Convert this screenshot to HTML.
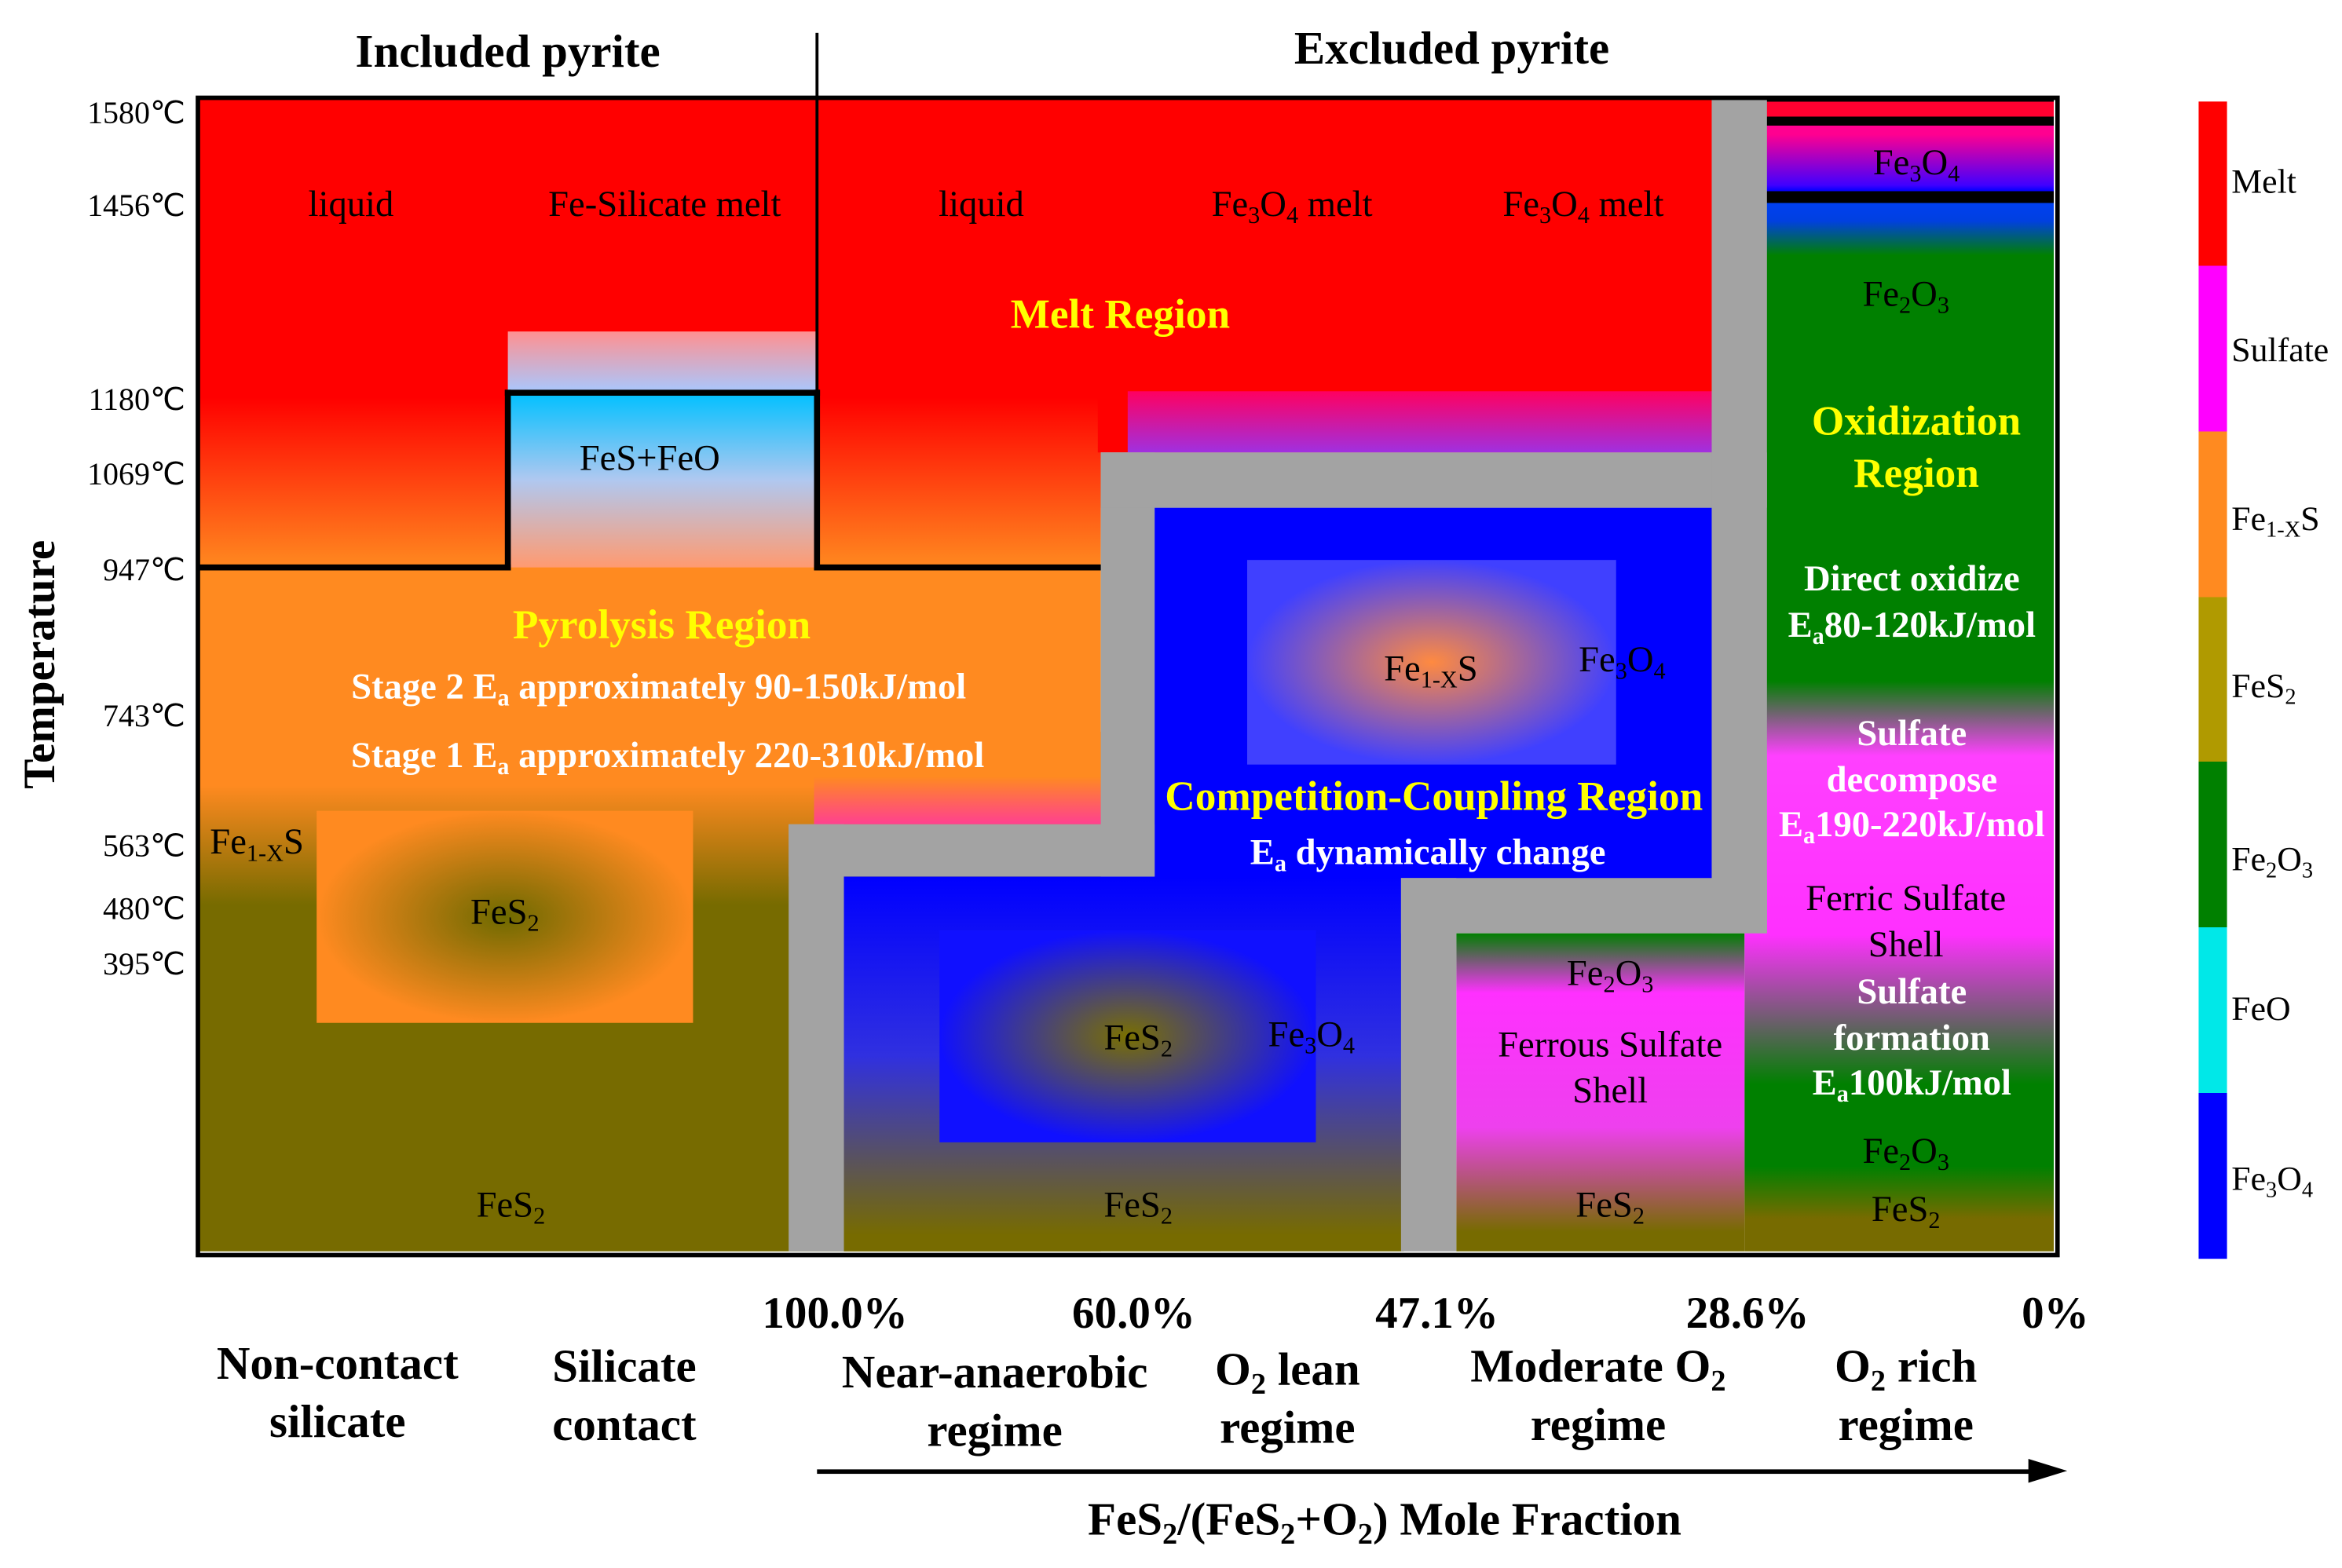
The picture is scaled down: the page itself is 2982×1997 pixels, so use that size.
<!DOCTYPE html>
<html><head><meta charset="utf-8"><style>
html,body{margin:0;padding:0;background:#fff;}
body{width:2982px;height:1997px;overflow:hidden;position:relative;}
#s{position:absolute;left:0;top:0;width:1568px;height:1050px;transform:scale(1.9018);transform-origin:0 0;font-family:"Liberation Serif",serif;color:#000;}
.a{position:absolute;}
.t{position:absolute;white-space:nowrap;font-size:24.5px;transform:translate(-50%,-50%);text-align:center;line-height:1.25;}
.b{font-weight:bold;}
.y{color:#ffff00;font-weight:bold;}
.w{color:#fff;font-weight:bold;}
.g{background:#a3a3a3;position:absolute;}
.k{background:#000;position:absolute;}
.tk{position:absolute;font-size:21px;transform:translate(-100%,-50%);white-space:nowrap;}
.cb{position:absolute;left:1494px;font-size:23px;transform:translateY(-50%);white-space:nowrap;}
sub{font-size:65%;vertical-align:-0.3em;line-height:0;}
</style></head><body><div id="s">
<div class="a" style="left:133px;top:66px;width:604px;height:772px;background:linear-gradient(#ff0000 0px,#ff0000 200px,#ff8a20 315px,#ff8a20 460px,#776b00 540px,#776b00 772px);"></div>
<div class="a" style="left:340px;top:222px;width:207px;height:41px;background:linear-gradient(#ff9090,#a8c8ff);"></div>
<div class="a" style="left:340px;top:263px;width:207px;height:117px;background:linear-gradient(#00c0ff,#b0c8f0 50%,#ff9a70);"></div>
<div class="a" style="left:212px;top:543px;width:252px;height:142px;background:radial-gradient(ellipse closest-side,#6e6a00,#ff8a20);"></div>
<div class="a" style="left:545px;top:490px;width:194px;height:62px;background:linear-gradient(#ff8a20,#ff8a20 30px,#ff4090);"></div>
<div class="a" style="left:735px;top:66px;width:412px;height:237px;background:#ff0000;"></div>
<div class="a" style="left:755px;top:262px;width:392px;height:41px;background:linear-gradient(#ff0060,#a030e0);"></div>
<div class="a" style="left:773px;top:340px;width:375px;height:250px;background:#0000ff;"></div>
<div class="a" style="left:835px;top:375px;width:247px;height:137px;background:radial-gradient(ellipse closest-side,#ff8a40,#4040ff);"></div>
<div class="a" style="left:565px;top:587px;width:375px;height:251px;background:linear-gradient(#0000ff 0,#3030e0 120px,#776b00 240px);"></div>
<div class="a" style="left:629px;top:623px;width:252px;height:142px;background:radial-gradient(ellipse closest-side,#7a7000,#1010ff);"></div>
<div class="a" style="left:975px;top:625px;width:193px;height:213px;background:linear-gradient(#008000 0,#ff30ff 40px,#ee40ee 130px,#776b00 200px);"></div>
<div class="a" style="left:1168px;top:66px;width:207px;height:772px;background:linear-gradient(#000 0,#000 2px,#ff0030 2px,#ff0030 12px,#000 12px,#000 18px,#ff0090 18px,#ff0090 24px,#4000ff 58px,#0000ff 62px,#000 62px,#000 70px,#0040f0 70px,#0040e0 82px,#008000 105px,#008000 390px,#ff40ff 440px,#ff30ff 560px,#008000 660px,#008000 715px,#776b00 750px);"></div>
<div class="g" style="left:528px;top:552px;width:37px;height:286px;"></div>
<div class="g" style="left:528px;top:552px;width:245px;height:35px;"></div>
<div class="g" style="left:737px;top:303px;width:36px;height:284px;"></div>
<div class="g" style="left:737px;top:303px;width:446px;height:37px;"></div>
<div class="g" style="left:1146px;top:66px;width:37px;height:559px;"></div>
<div class="g" style="left:938px;top:588px;width:245px;height:37px;"></div>
<div class="g" style="left:938px;top:588px;width:37px;height:250px;"></div>
<div class="k" style="left:133px;top:378px;width:209px;height:4px;"></div>
<div class="k" style="left:338px;top:261px;width:4px;height:121px;"></div>
<div class="k" style="left:338px;top:261px;width:211px;height:4px;"></div>
<div class="k" style="left:545px;top:261px;width:4px;height:121px;"></div>
<div class="k" style="left:545px;top:378px;width:192px;height:4px;"></div>
<div class="k" style="left:546px;top:22px;width:1.5px;height:360px;"></div>
<div class="a" style="left:131px;top:64px;width:1242px;height:772px;border:3.5px solid #000;"></div>
<div class="t b" style="left:340px;top:35px;font-size:31px;">Included pyrite</div>
<div class="t b" style="left:972px;top:33px;font-size:31px;">Excluded pyrite</div>
<div class="tk" style="left:124px;top:76px;">1580℃</div>
<div class="tk" style="left:124px;top:138px;">1456℃</div>
<div class="tk" style="left:124px;top:268px;">1180℃</div>
<div class="tk" style="left:124px;top:318px;">1069℃</div>
<div class="tk" style="left:124px;top:382px;">947℃</div>
<div class="tk" style="left:124px;top:480px;">743℃</div>
<div class="tk" style="left:124px;top:567px;">563℃</div>
<div class="tk" style="left:124px;top:609px;">480℃</div>
<div class="tk" style="left:124px;top:646px;">395℃</div>
<div class="t b" style="left:27px;top:445px;font-size:30px;transform:translate(-50%,-50%) rotate(-90deg);">Temperature</div>
<div class="t" style="left:235px;top:138px;">liquid</div>
<div class="t" style="left:445px;top:138px;">Fe-Silicate melt</div>
<div class="t" style="left:657px;top:138px;">liquid</div>
<div class="t" style="left:865px;top:138px;">Fe<sub>3</sub>O<sub>4</sub> melt</div>
<div class="t" style="left:1060px;top:138px;">Fe<sub>3</sub>O<sub>4</sub> melt</div>
<div class="t y" style="left:750px;top:211px;font-size:28px;">Melt Region</div>
<div class="t" style="left:435px;top:308px;">FeS+FeO</div>
<div class="t y" style="left:443px;top:419px;font-size:28px;">Pyrolysis Region</div>
<div class="t w" style="left:441px;top:461px;">Stage 2 E<sub>a</sub> approximately 90-150kJ/mol</div>
<div class="t w" style="left:447px;top:507px;">Stage 1 E<sub>a</sub> approximately 220-310kJ/mol</div>
<div class="t" style="left:172px;top:565px;">Fe<sub>1-X</sub>S</div>
<div class="t" style="left:338px;top:612px;">FeS<sub>2</sub></div>
<div class="t" style="left:342px;top:808px;">FeS<sub>2</sub></div>
<div class="t" style="left:958px;top:449px;">Fe<sub>1-X</sub>S</div>
<div class="t" style="left:1086px;top:443px;">Fe<sub>3</sub>O<sub>4</sub></div>
<div class="t y" style="left:960px;top:534px;font-size:28px;">Competition-Coupling Region</div>
<div class="t w" style="left:956px;top:572px;">E<sub>a</sub> dynamically change</div>
<div class="t" style="left:762px;top:696px;">FeS<sub>2</sub></div>
<div class="t" style="left:878px;top:694px;">Fe<sub>3</sub>O<sub>4</sub></div>
<div class="t" style="left:762px;top:808px;">FeS<sub>2</sub></div>
<div class="t" style="left:1078px;top:653px;">Fe<sub>2</sub>O<sub>3</sub></div>
<div class="t" style="left:1078px;top:716px;">Ferrous Sulfate<br>Shell</div>
<div class="t" style="left:1078px;top:808px;">FeS<sub>2</sub></div>
<div class="t" style="left:1283px;top:110px;">Fe<sub>3</sub>O<sub>4</sub></div>
<div class="t" style="left:1276px;top:198px;">Fe<sub>2</sub>O<sub>3</sub></div>
<div class="t y" style="left:1283px;top:300px;font-size:28px;">Oxidization<br>Region</div>
<div class="t w" style="left:1280px;top:404px;">Direct oxidize<br>E<sub>a</sub>80-120kJ/mol</div>
<div class="t w" style="left:1280px;top:523px;">Sulfate<br>decompose<br>E<sub>a</sub>190-220kJ/mol</div>
<div class="t" style="left:1276px;top:618px;">Ferric Sulfate<br>Shell</div>
<div class="t w" style="left:1280px;top:696px;">Sulfate<br>formation<br>E<sub>a</sub>100kJ/mol</div>
<div class="t" style="left:1276px;top:772px;">Fe<sub>2</sub>O<sub>3</sub></div>
<div class="t" style="left:1276px;top:811px;">FeS<sub>2</sub></div>
<div class="t b" style="left:559px;top:880px;font-size:30px;">100.0%</div>
<div class="t b" style="left:759px;top:880px;font-size:30px;">60.0%</div>
<div class="t b" style="left:962px;top:880px;font-size:30px;">47.1%</div>
<div class="t b" style="left:1170px;top:880px;font-size:30px;">28.6%</div>
<div class="t b" style="left:1376px;top:880px;font-size:30px;">0%</div>
<div class="t b" style="left:226px;top:933px;font-size:31px;">Non-contact<br>silicate</div>
<div class="t b" style="left:418px;top:935px;font-size:31px;">Silicate<br>contact</div>
<div class="t b" style="left:666px;top:939px;font-size:31px;">Near-anaerobic<br>regime</div>
<div class="t b" style="left:862px;top:937px;font-size:31px;">O<sub>2</sub> lean<br>regime</div>
<div class="t b" style="left:1070px;top:935px;font-size:31px;">Moderate O<sub>2</sub><br>regime</div>
<div class="t b" style="left:1276px;top:935px;font-size:31px;">O<sub>2</sub> rich<br>regime</div>
<div class="k" style="left:547px;top:984px;width:815px;height:2.5px;"></div>
<div class="a" style="left:1358px;top:977px;width:0;height:0;border-top:8px solid transparent;border-bottom:8px solid transparent;border-left:26px solid #000;"></div>
<div class="t b" style="left:927px;top:1018px;font-size:31px;">FeS<sub>2</sub>/(FeS<sub>2</sub>+O<sub>2</sub>) Mole Fraction</div>
<div class="a" style="left:1472px;top:68px;width:19px;height:775px;background:linear-gradient(#ff0000 0,#ff0000 110px,#ff00ff 110px,#ff00ff 221px,#ff8a20 221px,#ff8a20 332px,#b09a00 332px,#b09a00 442px,#008000 442px,#008000 553px,#00e8e8 553px,#00e8e8 664px,#0000ff 664px);"></div>
<div class="cb" style="top:122px;">Melt</div>
<div class="cb" style="top:235px;">Sulfate</div>
<div class="cb" style="top:348px;">Fe<sub>1-X</sub>S</div>
<div class="cb" style="top:460px;">FeS<sub>2</sub></div>
<div class="cb" style="top:576px;">Fe<sub>2</sub>O<sub>3</sub></div>
<div class="cb" style="top:676px;">FeO</div>
<div class="cb" style="top:790px;">Fe<sub>3</sub>O<sub>4</sub></div>
</div></body></html>
